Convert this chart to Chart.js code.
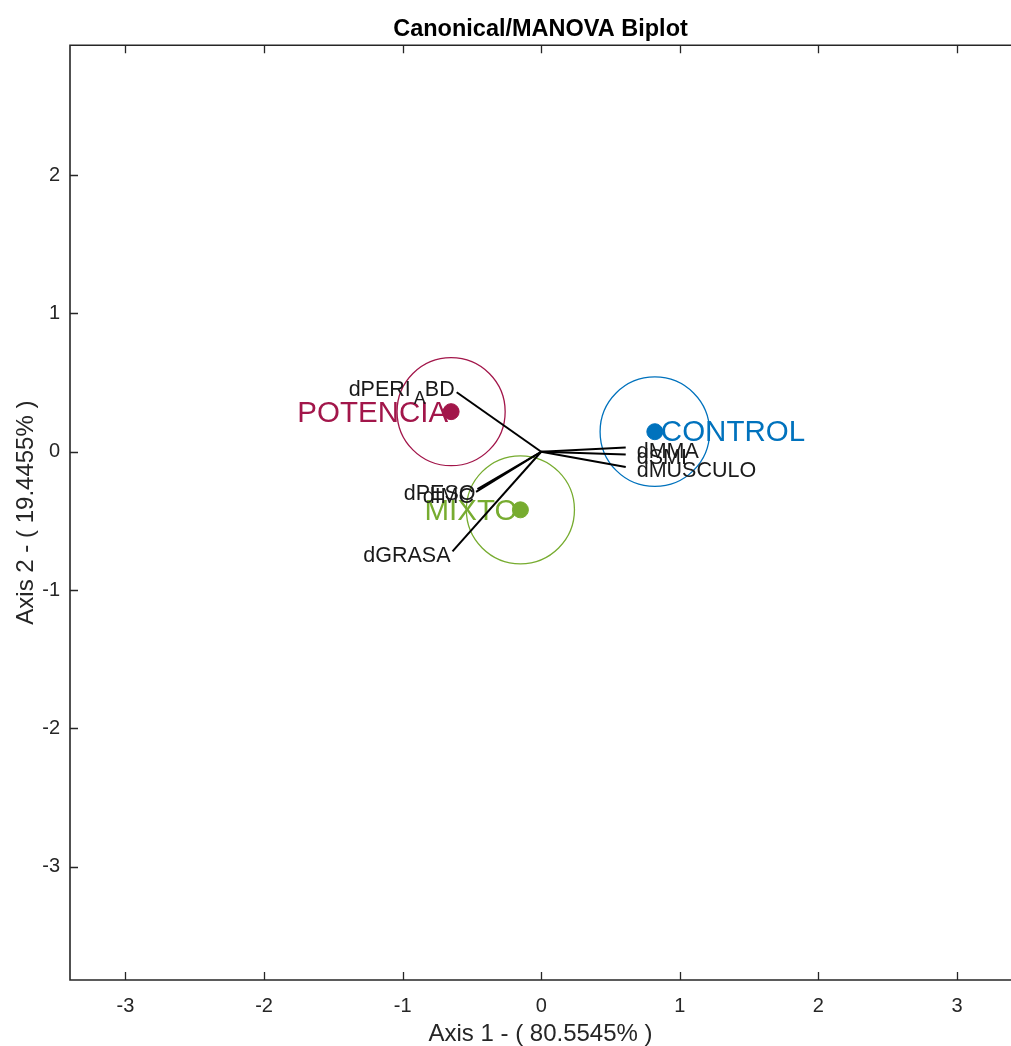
<!DOCTYPE html>
<html>
<head>
<meta charset="utf-8">
<title>Canonical/MANOVA Biplot</title>
<script src="https://cdn.jsdelivr.net/npm/chart.js@4.4.1/dist/chart.umd.min.js"></script>
<style>
  html, body { margin: 0; padding: 0; background: #ffffff; overflow: hidden; }
  canvas { display: block; }
</style>
</head>
<body>
<canvas id="biplot" width="1011" height="1046"></canvas>
<script>
// Group centroids in canonical space and radius of each confidence circle
const groupNames = ['POTENCIA', 'CONTROL', 'MIXTO'];
const groupX = [-0.65, 0.82, -0.15];
const groupY = [0.29, 0.145, -0.42];
const groupRadius = [0.39, 0.395, 0.39];

// Variable loadings (arrows drawn from the origin)
const varNames = ['dPERI_ABD', 'dMMA', 'dSMI', 'dMUSCULO', 'dPESO', 'dIMC', 'dGRASA'];
const varX = [-0.61, 0.61, 0.61, 0.61, -0.46, -0.47, -0.64];
const varY = [0.43, 0.03, -0.02, -0.11, -0.27, -0.29, -0.72];

// Axis ticks
const xTicks = [-3, -2, -1, 0, 1, 2, 3];
const yTicks = [-3, -2, -1, 0, 1, 2];

const groupColors = ['#A2164A', '#0072BD', '#77AC30'];
const FONT = '"Liberation Sans", Arial, Helvetica, sans-serif';
const AXIS_COLOR = '#262626';

// Loading arrows: one two-point line per variable
const vectorSets = varNames.map((name, i) => ({
  label: name,
  data: [{ x: 0, y: 0 }, { x: varX[i], y: varY[i] }],
  showLine: true,
  borderColor: '#000000',
  borderWidth: 2,
  pointRadius: 0,
  pointHoverRadius: 0,
  order: 2
}));

const centroidSet = {
  label: 'centroids',
  data: groupNames.map((n, i) => ({ x: groupX[i], y: groupY[i] })),
  pointRadius: 8,
  pointHoverRadius: 8,
  pointBackgroundColor: groupColors,
  pointBorderColor: groupColors,
  pointBorderWidth: 1,
  showLine: false,
  order: 1
};

// Draws "dPERI_ABD" style labels with a TeX-like subscript
function drawTexLabel(ctx, text, x, y, align, size) {
  const parts = [];
  const idx = text.indexOf('_');
  if (idx >= 0) {
    parts.push({ t: text.slice(0, idx), sub: false });
    parts.push({ t: text.charAt(idx + 1), sub: true });
    parts.push({ t: text.slice(idx + 2), sub: false });
  } else {
    parts.push({ t: text, sub: false });
  }
  const subSize = Math.round(size * 0.85);
  let total = 0;
  parts.forEach(p => {
    ctx.font = (p.sub ? subSize : size) + 'px ' + FONT;
    p.w = ctx.measureText(p.t).width + (p.sub ? 2 : 0);
    total += p.w;
  });
  let cx = align === 'right' ? x - total : x;
  ctx.textAlign = 'left';
  ctx.textBaseline = 'middle';
  parts.forEach(p => {
    ctx.font = (p.sub ? subSize : size) + 'px ' + FONT;
    ctx.fillText(p.t, cx + (p.sub ? 3 : 0), y + (p.sub ? 9 : 0));
    cx += p.w;
  });
}

const biplotDecor = {
  id: 'biplotDecor',
  beforeDatasetsDraw(chart) {
    const { ctx, chartArea, scales: { x, y } } = chart;
    ctx.save();
    ctx.beginPath();
    ctx.rect(chartArea.left, chartArea.top, chartArea.right - chartArea.left, chartArea.bottom - chartArea.top);
    ctx.clip();

    // confidence circles around each group mean
    groupNames.forEach((name, i) => {
      const px = x.getPixelForValue(groupX[i]);
      const py = y.getPixelForValue(groupY[i]);
      const r = x.getPixelForValue(groupX[i] + groupRadius[i]) - px;
      ctx.beginPath();
      ctx.arc(px, py, r, 0, Math.PI * 2);
      ctx.strokeStyle = groupColors[i];
      ctx.lineWidth = 1.3;
      ctx.stroke();
    });

    // group names next to their centroids
    groupNames.forEach((name, i) => {
      const px = x.getPixelForValue(groupX[i]);
      const py = y.getPixelForValue(groupY[i]);
      ctx.font = '29.5px ' + FONT;
      ctx.fillStyle = groupColors[i];
      ctx.textBaseline = 'middle';
      if (groupX[i] < 0) {
        ctx.textAlign = 'right';
        ctx.fillText(name, px - 3, py + 2);
      } else {
        ctx.textAlign = 'left';
        ctx.fillText(name, px + 6, py + 1);
      }
    });

    // variable names at arrow tips
    ctx.fillStyle = '#1a1a1a';
    varNames.forEach((name, i) => {
      const px = x.getPixelForValue(varX[i]);
      const py = y.getPixelForValue(varY[i]);
      const dy = varY[i] > 0 ? -2 : 5;
      if (varX[i] < 0) {
        drawTexLabel(ctx, name, px - 2, py + dy, 'right', 21.5);
      } else {
        drawTexLabel(ctx, name, px + 11, py + 4, 'left', 21.5);
      }
    });
    ctx.restore();
  },
  afterDraw(chart) {
    const { ctx, chartArea, scales: { x, y } } = chart;
    const { left, right, top, bottom } = chartArea;
    ctx.save();
    ctx.strokeStyle = AXIS_COLOR;
    ctx.lineWidth = 1.6;
    // axes box: left, top and bottom edges (right edge sits at the canvas border)
    ctx.beginPath();
    ctx.moveTo(right + 2, top); ctx.lineTo(left, top);
    ctx.lineTo(left, bottom); ctx.lineTo(right + 2, bottom);
    ctx.stroke();
    ctx.lineWidth = 1.3;
    const tl = 8;
    ctx.beginPath();
    x.ticks.forEach(t => {
      const px = Math.round(x.getPixelForValue(t.value)) + 0.5;
      ctx.moveTo(px, bottom); ctx.lineTo(px, bottom - tl);
      ctx.moveTo(px, top); ctx.lineTo(px, top + tl);
    });
    y.ticks.forEach(t => {
      const py = Math.round(y.getPixelForValue(t.value)) + 0.5;
      ctx.moveTo(left, py); ctx.lineTo(left + tl, py);
    });
    ctx.stroke();
    ctx.restore();
  }
};

new Chart(document.getElementById('biplot'), {
  type: 'scatter',
  data: { datasets: [...vectorSets, centroidSet] },
  options: {
    responsive: false,
    animation: false,
    events: [],
    layout: { autoPadding: false, padding: { left: 0, right: 0, top: 0, bottom: 0 } },
    plugins: {
      legend: { display: false },
      tooltip: { enabled: false },
      title: {
        display: true,
        fullSize: false,
        text: 'Canonical/MANOVA Biplot',
        color: '#000000',
        font: { family: FONT, size: 23.5, weight: 'bold', lineHeight: 1.2 },
        padding: { top: 15, bottom: 2 }
      }
    },
    scales: {
      x: {
        type: 'linear',
        min: -3.4,
        max: 3.39,
        afterBuildTicks: s => { s.ticks = xTicks.map(v => ({ value: v })); },
        afterFit: s => { s.height = 66; },
        grid: { display: false, drawTicks: false },
        border: { display: false },
        ticks: {
          color: AXIS_COLOR,
          padding: 14,
          maxRotation: 0,
          font: { family: FONT, size: 20 }
        },
        title: {
          display: true,
          text: 'Axis 1 - ( 80.5545% )',
          color: AXIS_COLOR,
          font: { family: FONT, size: 24, lineHeight: 1 },
          padding: { top: 0, bottom: 0 }
        }
      },
      y: {
        type: 'linear',
        min: -3.82,
        max: 2.94,
        afterBuildTicks: s => { s.ticks = yTicks.map(v => ({ value: v })); },
        afterFit: s => { s.width = 70; },
        grid: { display: false, drawTicks: false },
        border: { display: false },
        ticks: {
          color: AXIS_COLOR,
          padding: 10,
          font: { family: FONT, size: 20 }
        },
        title: {
          display: true,
          text: 'Axis 2 - ( 19.4455% )',
          color: AXIS_COLOR,
          font: { family: FONT, size: 24, lineHeight: 1 },
          padding: { top: 14, bottom: 14 }
        }
      }
    }
  },
  plugins: [biplotDecor]
});
</script>
</body>
</html>
